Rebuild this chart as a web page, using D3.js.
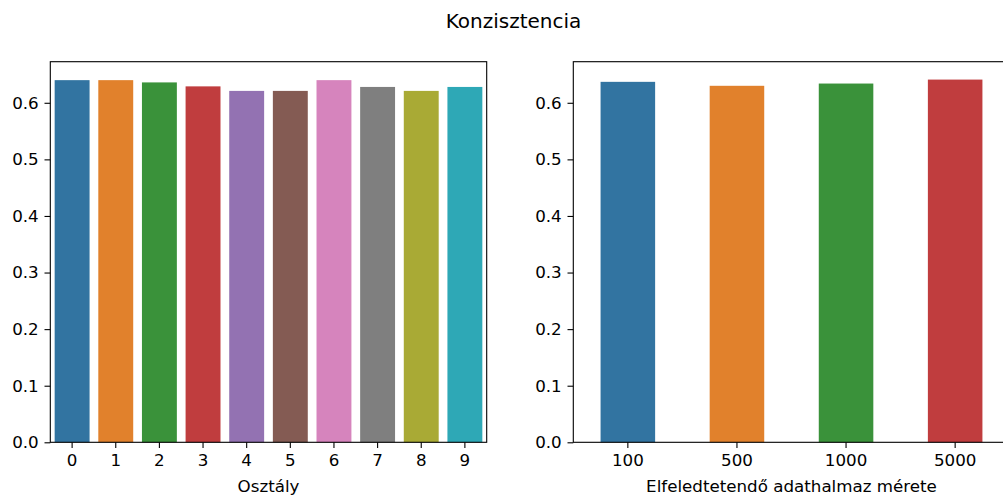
<!DOCTYPE html>
<html>
<head>
<meta charset="utf-8">
<script src="https://cdn.jsdelivr.net/npm/d3@7"></script>
<style>
  html, body { margin: 0; padding: 0; background: #fff; }
  svg { display: block; font-family: "DejaVu Sans", sans-serif; }
</style>
</head>
<body>
<svg id="chart" width="1003" height="497"></svg>
<script>
// ---- data ----
const classCategories = ["0", "1", "2", "3", "4", "5", "6", "7", "8", "9"];
const classValues = [0.640, 0.640, 0.636, 0.629, 0.621, 0.621, 0.640, 0.628, 0.621, 0.628];
const sizeCategories = ["100", "500", "1000", "5000"];
const sizeValues = [0.637, 0.630, 0.634, 0.641];
const yTicks = [0.0, 0.1, 0.2, 0.3, 0.4, 0.5, 0.6];
const palette = ["#3274a1", "#e1812c", "#3a923a", "#c03d3e", "#9372b2",
                 "#845b53", "#d684bd", "#7f7f7f", "#a9aa35", "#2ea8b6"];
const chartTitle = "Konzisztencia";
const leftXLabel = "Osztály";
const rightXLabel = "Elfeledtetendő adathalmaz mérete";

// ---- layout ----
const svg = d3.select("#chart");
const plotTop = 61.7, plotBottom = 442.3;
const yMax = 0.6726;
const fs = 16.7;
const tickLen = 5.8, tickPad = 5.8;

const y = d3.scaleLinear().domain([0, yMax]).range([plotBottom, plotTop]);

function panel(x0, x1, cats, vals, padInner, padOuter, xlabel) {
  const x = d3.scaleBand().domain(cats).range([x0, x1])
    .paddingInner(padInner).paddingOuter(padOuter);
  const g = svg.append("g");

  g.selectAll("rect.bar").data(cats).join("rect")
    .attr("class", "bar")
    .attr("x", d => x(d))
    .attr("width", x.bandwidth())
    .attr("y", (d, i) => y(vals[i]))
    .attr("height", (d, i) => y(0) - y(vals[i]))
    .attr("fill", (d, i) => palette[i % palette.length]);

  const xAxis = g.append("g").attr("transform", `translate(0,${plotBottom})`)
    .call(d3.axisBottom(x).tickSize(tickLen).tickPadding(tickPad).tickSizeOuter(0));
  const yAxis = g.append("g").attr("transform", `translate(${x0},0)`)
    .call(d3.axisLeft(y).tickValues(yTicks).tickFormat(d3.format(".1f"))
      .tickSize(tickLen).tickPadding(tickPad).tickSizeOuter(0));
  [xAxis, yAxis].forEach(a => {
    a.select(".domain").remove();
    a.selectAll(".tick line").attr("stroke", "#000").attr("stroke-width", 1.1);
    a.selectAll(".tick text").attr("fill", "#000")
      .style("font-size", fs + "px").style("font-family", "DejaVu Sans, sans-serif");
  });

  g.append("rect")
    .attr("x", x0).attr("y", plotTop)
    .attr("width", x1 - x0).attr("height", plotBottom - plotTop)
    .attr("fill", "none").attr("stroke", "#000").attr("stroke-width", 1.1);

  g.append("text")
    .attr("x", (x0 + x1) / 2).attr("y", 492)
    .attr("text-anchor", "middle")
    .style("font-size", fs + "px").attr("fill", "#000")
    .text(xlabel);
}

panel(50.3, 486.7, classCategories, classValues, 0.2, 0.1, leftXLabel);
panel(573.3, 1009.7, sizeCategories, sizeValues, 0.5, 0.25, rightXLabel);

svg.append("text")
  .attr("x", 513.5).attr("y", 28)
  .attr("text-anchor", "middle")
  .style("font-size", "20px").attr("fill", "#000")
  .text(chartTitle);
</script>
</body>
</html>
